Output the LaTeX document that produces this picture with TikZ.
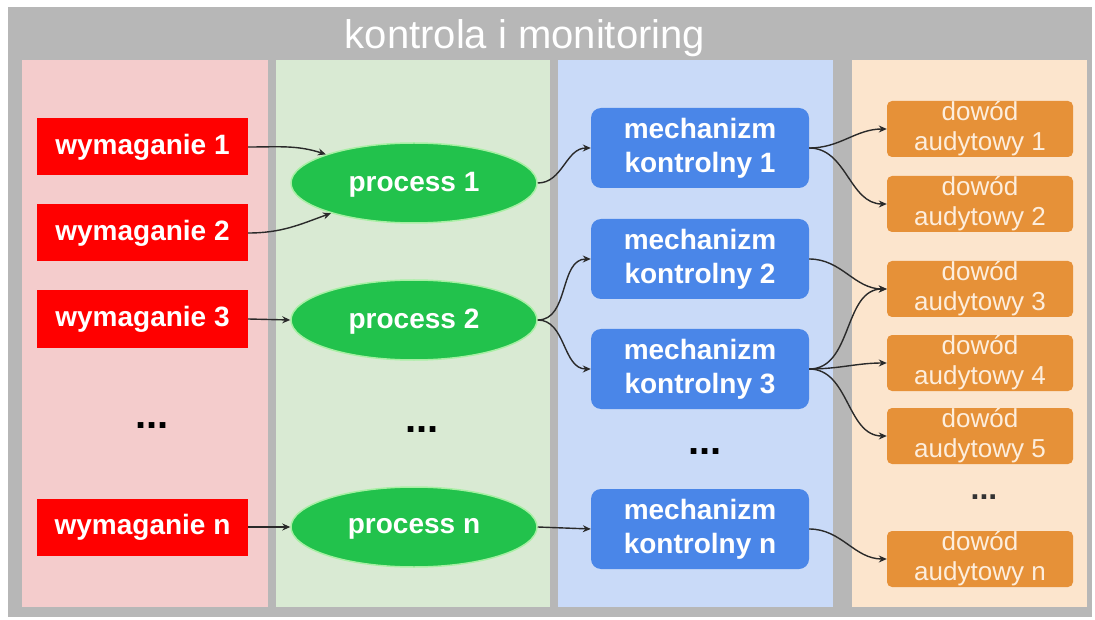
\documentclass[tikz,border=0pt]{standalone}
\usepackage{fontspec}
\setmainfont{Liberation Sans}
\usetikzlibrary{arrows.meta,shapes.geometric}

\definecolor{framegray}{HTML}{B7B7B7}
\definecolor{lanered}{HTML}{F4CCCC}
\definecolor{lanegreen}{HTML}{D9EAD3}
\definecolor{laneblue}{HTML}{C9DAF8}
\definecolor{laneorange}{HTML}{FCE5CD}
\definecolor{reqred}{HTML}{FF0000}
\definecolor{procgreen}{HTML}{22C24C}
\definecolor{procedge}{HTML}{A8EFA4}
\definecolor{ctrlblue}{HTML}{4A86E8}
\definecolor{evorange}{HTML}{E69138}
\definecolor{evtext}{HTML}{FDEEDD}
\definecolor{linkgray}{HTML}{2A2A2A}

\tikzset{
  reqbox/.style={fill=reqred, text=white, minimum width=211pt, minimum height=57pt,
    inner sep=0pt, font=\fontsize{28}{33}\selectfont\bfseries},
  procnode/.style={ellipse, fill=procgreen, draw=procedge, line width=1.5pt, text=white,
    minimum width=246pt, minimum height=80pt, inner sep=0pt, text depth=2pt,
    font=\fontsize{28}{33}\selectfont\bfseries},
  ctrlbox/.style={fill=ctrlblue, text=white, rounded corners=10pt, minimum width=218pt,
    minimum height=80pt, inner sep=0pt, align=center,
    font=\fontsize{28}{34}\selectfont\bfseries},
  evbox/.style={fill=evorange, text=evtext, rounded corners=5pt, minimum width=186pt,
    minimum height=56pt, inner sep=0pt, align=center,
    font=\fontsize{26}{30}\selectfont},
  dotsmark/.style={text=black, font=\fontsize{40}{40}\selectfont\bfseries},
  link/.style={draw=linkgray, line width=1.4pt, -{Stealth[length=8pt,width=7pt]}},
}

\begin{document}
\begin{tikzpicture}[x=1pt,y=1pt]
  % canvas and frame
  \useasboundingbox (0,0) rectangle (1095,-620);
  \fill[white] (0,0) rectangle (1095,-620);
  \fill[framegray] (8,-7) rectangle (1092,-617);

  % lanes
  \fill[lanered]    (22,-60)  rectangle (268,-607);
  \fill[lanegreen]  (276,-60) rectangle (550,-607);
  \fill[laneblue]   (558,-60) rectangle (833,-607);
  \fill[laneorange] (852,-60) rectangle (1087,-607);

  % title
  \node[anchor=base, text=white, font=\fontsize{40}{40}\selectfont] (title) at (525,-49) {kontrola i monitoring};

  % requirements
  \node[reqbox] (w1) at (142.5,-147) {wymaganie 1};
  \node[reqbox] (w2) at (142.5,-233) {wymaganie 2};
  \node[reqbox] (w3) at (142.5,-319) {wymaganie 3};
  \node[dotsmark] (wd) at (152,-426) {...};
  \node[reqbox] (wn) at (142.5,-527) {wymaganie n};

  % processes
  \node[procnode] (p1) at (414,-183) {process 1};
  \node[procnode] (p2) at (414,-320) {process 2};
  \node[dotsmark] (pd) at (422,-430) {...};
  \node[procnode] (pn) at (414,-527) {process n};

  % control mechanisms
  \node[ctrlbox] (m1) at (700,-148) {mechanizm\\kontrolny 1};
  \node[ctrlbox] (m2) at (700,-259) {mechanizm\\kontrolny 2};
  \node[ctrlbox] (m3) at (700,-369) {mechanizm\\kontrolny 3};
  \node[dotsmark] (md) at (705,-452) {...};
  \node[ctrlbox] (mn) at (700,-529) {mechanizm\\kontrolny n};

  % audit evidence
  \node[evbox] (e1) at (980,-129) {dowód\\audytowy 1};
  \node[evbox] (e2) at (980,-204) {dowód\\audytowy 2};
  \node[evbox] (e3) at (980,-289) {dowód\\audytowy 3};
  \node[evbox] (e4) at (980,-363) {dowód\\audytowy 4};
  \node[evbox] (e5) at (980,-436) {dowód\\audytowy 5};
  \node[dotsmark, text=black!80, font=\fontsize{32}{32}\selectfont\bfseries] (ed) at (984,-497) {...};
  \node[evbox] (en) at (980,-559) {dowód\\audytowy n};

  % requirements -> processes
  \draw[link] (w1.east) to[out=0, in=162] (p1.162);
  \draw[link] (w2.east) to[out=0, in=200] (p1.200);
  \draw[link] (w3.east) -- (p2.west);
  \draw[link] (wn.east) -- (pn.west);

  % processes -> control mechanisms
  \draw[link] (p1.east) to[out=0, in=180] (m1.west);
  \draw[link] (p2.east) to[out=0, in=180] (m2.west);
  \draw[link] (p2.east) to[out=0, in=180] (m3.west);
  \draw[link] (pn.east) -- (mn.west);

  % control mechanisms -> audit evidence
  \draw[link] (m1.east) to[out=0, in=180] (e1.west);
  \draw[link] (m1.east) to[out=0, in=180] (e2.west);
  \draw[link] (m2.east) to[out=0, in=180] (e3.west);
  \draw[link] (m3.east) to[out=0, in=180] (e3.west);
  \draw[link] (m3.east) to[out=0, in=180] (e4.west);
  \draw[link] (m3.east) to[out=0, in=180] (e5.west);
  \draw[link] (mn.east) to[out=0, in=180] (en.west);
\end{tikzpicture}
\end{document}
